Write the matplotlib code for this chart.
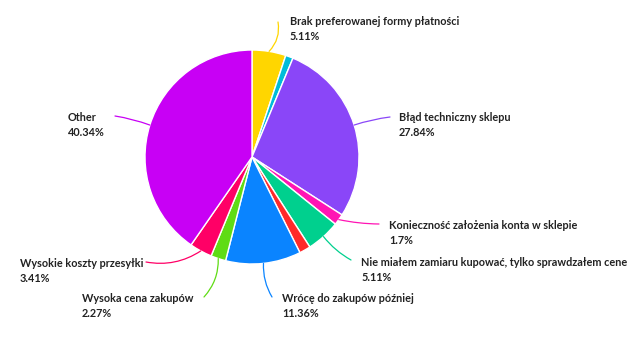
#!/usr/bin/env python3
# -*- coding: utf-8 -*-

"""Pie chart of reasons for abandoning a cart."""

import numpy as np
import matplotlib.pyplot as plt

LABELS = [
    "Brak preferowanej formy płatności",
    "",
    "Błąd techniczny sklepu",
    "Konieczność założenia konta w sklepie",
    "Nie miałem zamiaru kupować, tylko sprawdzałem cene",
    "",
    "Wrócę do zakupów później",
    "Wysoka cena zakupów",
    "Wysokie koszty przesyłki",
    "Other",
]
PERCENTS = ["5.11%", "", "27.84%", "1.7%", "5.11%", "", "11.36%",
            "2.27%", "3.41%", "40.34%"]
VALUES = [5.11, 1.14, 27.84, 1.70, 5.11, 1.70, 11.36, 2.27, 3.41, 40.34]
COLORS = ["#FFD600", "#00BCD9", "#8A46F8", "#FF14B4", "#00D08E", "#FF2A2A",
          "#0A84FF", "#5FDC14", "#FF0066", "#C800F5"]

# label layout in pixel coords (top-left origin): text x, text centre y,
# end point of the leader line
TEXT_POS = [(290, 29), None, (399, 125), (389, 233), (361, 270), None,
            (282, 306), (82, 306), (20, 271), (68, 125)]
LINE_END = [(278, 22), None, (390, 117), (379, 224), (351, 260), None,
            (272, 297), (204, 297), (146, 262), (115, 116)]
LINE_RAD = [-0.25, 0, 0.05, -0.05, -0.1, 0, -0.15, 0.2, 0.2, -0.05]

W, H = 639, 359
CX, CY, R = 252, 157, 107


def main():
    """Launcher."""
    plt.rcParams["font.family"] = ["Lato", "DejaVu Sans"]
    fig = plt.figure(figsize=(W / 100, H / 100), dpi=100)
    ax = fig.add_axes([0, 0, 1, 1])
    ax.pie(VALUES, colors=COLORS, startangle=90, counterclock=False,
           center=(CX, H - CY), radius=R,
           wedgeprops=dict(edgecolor="white", linewidth=1))
    ax.set_aspect("equal")
    ax.set_xlim(0, W)
    ax.set_ylim(0, H)
    ax.axis("off")

    total = sum(VALUES)
    start = 90.0
    for i, val in enumerate(VALUES):
        sweep = 360.0 * val / total
        mid = np.deg2rad(start - sweep / 2)
        start -= sweep
        if not LABELS[i]:
            continue
        px = CX + R * np.cos(mid)
        py = H - CY + R * np.sin(mid)
        ex, ey = LINE_END[i]
        ax.annotate("", xy=(px, py), xytext=(ex, H - ey),
                    arrowprops=dict(arrowstyle="-", color=COLORS[i], lw=0.9,
                                    shrinkA=0, shrinkB=0,
                                    connectionstyle="arc3,rad=%s" % LINE_RAD[i]))
        tx, ty = TEXT_POS[i]
        ax.text(tx, H - ty, LABELS[i] + "\n" + PERCENTS[i], ha="left",
                va="center", fontsize=7.8, fontweight="bold", color="#222222",
                linespacing=1.5)

    fig.savefig("out.png", dpi=100)


if __name__ == "__main__":
    main()
